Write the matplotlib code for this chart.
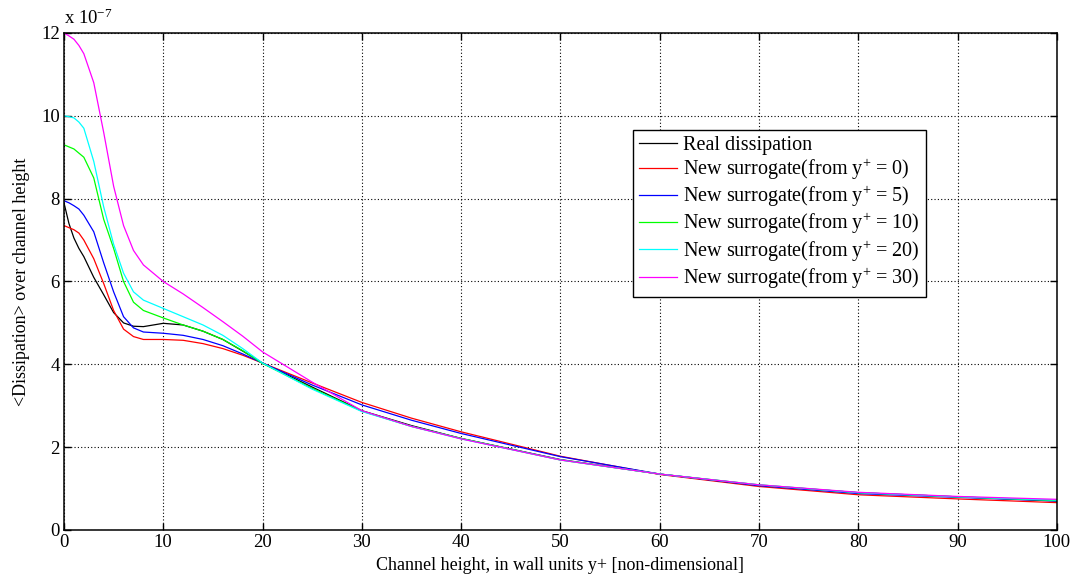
import numpy as np
import matplotlib
matplotlib.use("Agg")
import matplotlib.pyplot as plt

plt.rcParams['font.family'] = ['Liberation Serif', 'DejaVu Serif']
plt.rcParams['mathtext.fontset'] = 'custom'
plt.rcParams['mathtext.rm'] = 'Liberation Serif'
plt.rcParams['mathtext.it'] = 'Liberation Serif:italic'

# y+ positions (wall units)
yplus = [0, 0.5, 1, 1.5, 2, 3, 4, 5, 6, 7, 8, 10, 12, 14, 16, 18, 20,
         25, 30, 35, 40, 50, 60, 70, 80, 90, 100]

# <dissipation> in units of 1e-7
real_diss = [7.9, 7.4, 7.05, 6.8, 6.6, 6.1, 5.68, 5.25, 5.0, 4.92, 4.91, 4.99, 4.95, 4.8, 4.6, 4.32, 4.03,
             3.45, 2.88, 2.52, 2.21, 1.70, 1.35, 1.08, 0.90, 0.80, 0.70]
surr_0 = [7.35, 7.3, 7.25, 7.17, 7.0, 6.55, 5.95, 5.3, 4.85, 4.67, 4.6, 4.6, 4.58, 4.5, 4.38, 4.22, 4.03,
          3.55, 3.08, 2.7, 2.37, 1.78, 1.34, 1.05, 0.85, 0.75, 0.66]
surr_5 = [7.95, 7.9, 7.83, 7.75, 7.6, 7.2, 6.45, 5.75, 5.15, 4.88, 4.78, 4.75, 4.7, 4.6, 4.45, 4.25, 4.03,
          3.5, 3.02, 2.65, 2.33, 1.77, 1.35, 1.07, 0.88, 0.79, 0.70]
surr_10 = [9.3, 9.25, 9.2, 9.1, 9.0, 8.5, 7.5, 6.8, 6.0, 5.5, 5.3, 5.12, 4.95, 4.8, 4.6, 4.33, 4.02,
           3.42, 2.87, 2.5, 2.21, 1.69, 1.35, 1.09, 0.90, 0.80, 0.71]
surr_20 = [10.0, 9.98, 9.95, 9.85, 9.7, 8.9, 7.8, 6.9, 6.2, 5.75, 5.55, 5.35, 5.15, 4.95, 4.7, 4.38, 4.03,
           3.4, 2.86, 2.5, 2.2, 1.69, 1.35, 1.09, 0.90, 0.80, 0.72]
surr_30 = [12.0, 11.93, 11.85, 11.7, 11.5, 10.8, 9.6, 8.3, 7.35, 6.75, 6.4, 6.0, 5.7, 5.37, 5.03, 4.68, 4.3,
           3.57, 2.88, 2.5, 2.2, 1.69, 1.35, 1.09, 0.91, 0.81, 0.74]

series = [real_diss, surr_0, surr_5, surr_10, surr_20, surr_30]
labels = ['Real dissipation',
          r'New surrogate(from y$^{+}$ = 0)',
          r'New surrogate(from y$^{+}$ = 5)',
          r'New surrogate(from y$^{+}$ = 10)',
          r'New surrogate(from y$^{+}$ = 20)',
          r'New surrogate(from y$^{+}$ = 30)']
colores = ['k', (1, 0, 0), (0, 0, 1), (0, 1, 0), (0, 1, 1), (1, 0, 1)]

fig = plt.figure(figsize=(10.77, 5.84), dpi=100)
ax = fig.add_axes([0.0594, 0.0925, 0.922, 0.851])

for s, lab, c in zip(series, labels, colores):
    ax.plot(yplus, s, color=c, lw=0.9, label=lab)

ax.set_xlim(0, 100)
ax.set_ylim(0, 12)
ax.set_xticks(np.arange(0, 101, 10))
ax.set_yticks(np.arange(0, 13, 2))
ax.grid(True, color='k', linestyle=(0, (1, 2)), linewidth=0.8)
ax.tick_params(direction='in', top=True, right=True, length=5, labelsize=13.5, width=1, pad=3)
for sp in ax.spines.values():
    sp.set_linewidth(1.1)

ax.set_xlabel('Channel height, in wall units y+ [non-dimensional]', fontsize=13, labelpad=4)
ax.set_ylabel('<Dissipation> over channel height', fontsize=13, labelpad=8)
ax.text(0.0, 1.01, r'x 10$^{-7}$', transform=ax.transAxes, fontsize=13.5, va='bottom', ha='left')

leg = ax.legend(loc='upper left', bbox_to_anchor=(0.573, 0.805), fontsize=14.5,
                fancybox=False, framealpha=1, edgecolor='k', handlelength=1.9,
                borderpad=0.3, labelspacing=0.1, handletextpad=0.3, borderaxespad=0)
leg.get_frame().set_linewidth(1.0)

fig.savefig('out.png', dpi=100)
